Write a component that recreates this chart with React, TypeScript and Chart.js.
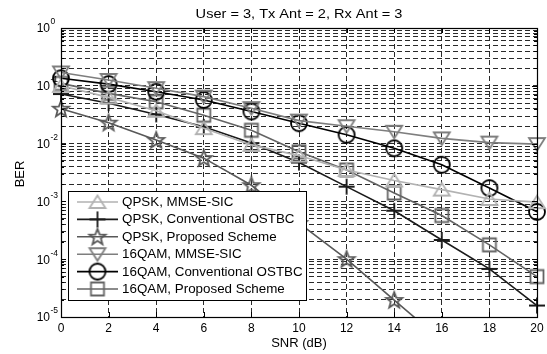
import React, { useEffect, useRef } from "react";
import { Chart, registerables } from "chart.js";

Chart.register(...registerables);

const snr = [0, 2, 4, 6, 8, 10, 12, 14, 16, 18, 20];
const qpskMmse = [0.1, 0.063, 0.037, 0.0185, 0.0095, 0.0062, 0.0035, 0.0023, 0.0016, 0.0011, 0.00097];
const qpskConv = [0.072, 0.05, 0.032, 0.0195, 0.0102, 0.0047, 0.0018, 0.00069, 0.000215, 0.000068, 0.0000158];
const qpskProp = [0.04, 0.023, 0.0115, 0.0056, 0.0019, 0.00042, 0.0001, 0.0000196, 0.0000039];
const qam16Mmse = [0.17, 0.126, 0.091, 0.065, 0.041, 0.025, 0.02, 0.016, 0.0123, 0.0104, 0.0098];
const qam16Conv = [0.135, 0.107, 0.079, 0.057, 0.036, 0.0225, 0.0142, 0.0083, 0.0043, 0.0017, 0.00066];
const qam16Prop = [0.11, 0.074, 0.053, 0.031, 0.017, 0.0072, 0.0035, 0.0014, 0.00057, 0.000177, 0.00005];

const seriesNames = [
  "QPSK, MMSE-SIC",
  "QPSK, Conventional OSTBC",
  "QPSK, Proposed Scheme",
  "16QAM, MMSE-SIC",
  "16QAM, Conventional OSTBC",
  "16QAM, Proposed Scheme",
];
const seriesData = [qpskMmse, qpskConv, qpskProp, qam16Mmse, qam16Conv, qam16Prop];
const seriesColors = ["#b2b2b2", "#1a1a1a", "#585858", "#7e7e7e", "#000000", "#646464"];
const seriesMarkers = ["triUp", "plus", "star", "triDown", "circle", "square"];

const xTicks = [0, 2, 4, 6, 8, 10, 12, 14, 16, 18, 20];
const yExponents = [0, -1, -2, -3, -4, -5];
const titleText = "User = 3, Tx Ant = 2, Rx Ant = 3";
const xTitle = "SNR (dB)";
const yTitle = "BER";

const FONT = "'Liberation Sans', Arial, Helvetica, sans-serif";

function makeMarker(kind: string, color: string): HTMLCanvasElement {
  const s = 22;
  const c = document.createElement("canvas");
  c.width = s;
  c.height = s;
  const ctx = c.getContext("2d")!;
  const cx = s / 2;
  const cy = s / 2;
  ctx.strokeStyle = color;
  ctx.lineWidth = 1.8;
  ctx.beginPath();
  if (kind === "triUp") {
    ctx.moveTo(cx, cy - 6.5);
    ctx.lineTo(cx + 8, cy + 6);
    ctx.lineTo(cx - 8, cy + 6);
    ctx.closePath();
  } else if (kind === "triDown") {
    ctx.moveTo(cx, cy + 6.5);
    ctx.lineTo(cx + 8, cy - 6);
    ctx.lineTo(cx - 8, cy - 6);
    ctx.closePath();
  } else if (kind === "plus") {
    ctx.moveTo(cx - 8, cy);
    ctx.lineTo(cx + 8, cy);
    ctx.moveTo(cx, cy - 8);
    ctx.lineTo(cx, cy + 8);
  } else if (kind === "circle") {
    ctx.arc(cx, cy, 8, 0, Math.PI * 2);
  } else if (kind === "square") {
    ctx.rect(cx - 6.5, cy - 6.5, 13, 13);
  } else if (kind === "star") {
    const R = 8.5;
    const r = 3.6;
    for (let i = 0; i < 10; i++) {
      const a = -Math.PI / 2 + (i * Math.PI) / 5;
      const rr = i % 2 === 0 ? R : r;
      const px = cx + rr * Math.cos(a);
      const py = cy + rr * Math.sin(a) + 0.5;
      if (i === 0) ctx.moveTo(px, py);
      else ctx.lineTo(px, py);
    }
    ctx.closePath();
  }
  ctx.stroke();
  return c;
}

function stretchedText(ctx: CanvasRenderingContext2D, text: string, x: number, y: number, sx: number) {
  ctx.save();
  ctx.translate(x, y);
  ctx.scale(sx, 1);
  ctx.fillText(text, 0, 0);
  ctx.restore();
}

export default function App() {
  const ref = useRef<HTMLCanvasElement | null>(null);

  useEffect(() => {
    document.body.style.margin = "0";
    const canvas = ref.current!;
    const markers = seriesMarkers.map((m, i) => makeMarker(m, seriesColors[i]));

    const datasets = seriesData.map((vals, i) => ({
      label: seriesNames[i],
      data: vals.map((v, j) => ({ x: snr[j], y: v })),
      borderColor: seriesColors[i],
      backgroundColor: seriesColors[i],
      borderWidth: 1.6,
      pointStyle: markers[i],
      pointRadius: 8,
      pointHoverRadius: 8,
      tension: 0,
      clip: { left: 12, right: 12, top: 12, bottom: 0 },
    }));

    const decorPlugin = {
      id: "decor",
      afterDatasetsDraw(chart: any) {
        const ctx = chart.ctx;
        ctx.save();
        const bx = 68, by = 191, bw = 238, bh = 109;
        ctx.fillStyle = "#ffffff";
        ctx.fillRect(bx, by, bw, bh);
        ctx.strokeStyle = "#000";
        ctx.lineWidth = 1;
        ctx.strokeRect(bx + 0.5, by + 0.5, bw, bh);
        ctx.font = `12.5px ${FONT}`;
        ctx.textBaseline = "middle";
        ctx.textAlign = "left";
        for (let i = 0; i < seriesNames.length; i++) {
          const y = 202 + i * 17.4;
          ctx.strokeStyle = seriesColors[i];
          ctx.lineWidth = 1.6;
          ctx.beginPath();
          ctx.moveTo(77, y);
          ctx.lineTo(118, y);
          ctx.stroke();
          const m = markers[i];
          ctx.drawImage(m, 97.5 - m.width / 2, y - m.height / 2);
          ctx.fillStyle = "#000";
          stretchedText(ctx, seriesNames[i], 122, y + 0.5, 1.07);
        }
        ctx.restore();
      },
      afterDraw(chart: any) {
        const ctx = chart.ctx;
        const area = chart.chartArea;
        const xs = chart.scales.x;
        const ys = chart.scales.y;
        ctx.save();
        ctx.strokeStyle = "#000";
        ctx.lineWidth = 1;
        ctx.beginPath();
        for (const t of xTicks) {
          const px = Math.round(xs.getPixelForValue(t)) + 0.5;
          ctx.moveTo(px, area.bottom);
          ctx.lineTo(px, area.bottom - 5);
          ctx.moveTo(px, area.top);
          ctx.lineTo(px, area.top + 5);
        }
        for (const e of yExponents) {
          for (let k = 1; k <= 9; k++) {
            const v = k * Math.pow(10, e);
            if (v > 1.0000001 || v < 1e-5 * 0.999999) continue;
            const py = Math.round(ys.getPixelForValue(v)) + 0.5;
            const len = k === 1 ? 5 : 3;
            ctx.moveTo(area.left, py);
            ctx.lineTo(area.left + len, py);
            ctx.moveTo(area.right, py);
            ctx.lineTo(area.right - len, py);
          }
        }
        ctx.stroke();
        ctx.lineWidth = 1.2;
        ctx.strokeRect(Math.round(area.left) + 0.5, Math.round(area.top) + 0.5, Math.round(area.right - area.left), Math.round(area.bottom - area.top));
        ctx.fillStyle = "#000";
        ctx.font = `12px ${FONT}`;
        ctx.textAlign = "center";
        ctx.textBaseline = "middle";
        for (const t of xTicks) {
          ctx.fillText(String(t), xs.getPixelForValue(t), 329);
        }
        for (const e of yExponents) {
          const py = ys.getPixelForValue(Math.pow(10, e));
          ctx.font = `12px ${FONT}`;
          ctx.textAlign = "right";
          ctx.textBaseline = "middle";
          ctx.fillText("10", 50, py + 1);
          ctx.font = `8.5px ${FONT}`;
          ctx.textAlign = "left";
          ctx.fillText(String(e), 50.5, py - 6);
        }
        ctx.font = `13px ${FONT}`;
        ctx.textAlign = "center";
        ctx.textBaseline = "middle";
        stretchedText(ctx, titleText, 299, 14.5, 1.12);
        ctx.fillText(xTitle, 299, 343);
        ctx.save();
        ctx.translate(20, 174);
        ctx.rotate(-Math.PI / 2);
        ctx.fillText(yTitle, 0, 0);
        ctx.restore();
        ctx.restore();
      },
    };

    const chart = new Chart(canvas, {
      type: "line",
      data: { datasets: datasets as any },
      options: {
        animation: false,
        responsive: false,
        events: [],
        layout: { padding: { top: 28, right: 10, left: 0, bottom: 0 } },
        plugins: {
          legend: { display: false },
          title: { display: false },
          tooltip: { enabled: false },
        },
        scales: {
          x: {
            type: "linear",
            min: 0,
            max: 20,
            ticks: { display: false, stepSize: 2 },
            grid: { color: "#2a2a2a", lineWidth: 1, drawTicks: false },
            border: { display: false, dash: [5, 3] },
            afterFit: (s: any) => {
              s.height = 37;
            },
          },
          y: {
            type: "logarithmic",
            min: 1e-5,
            max: 1,
            ticks: { display: false },
            grid: { color: "#2a2a2a", lineWidth: 1, drawTicks: false },
            border: { display: false, dash: [5, 3] },
            afterBuildTicks: (s: any) => {
              const t: any[] = [];
              for (const e of yExponents) {
                for (let k = 1; k <= 9; k++) {
                  const v = k * Math.pow(10, e);
                  if (v <= 1.0000001 && v >= 1e-5 * 0.999999) t.push({ value: v });
                }
              }
              s.ticks = t;
            },
            afterFit: (s: any) => {
              s.width = 61;
            },
          },
        },
      } as any,
      plugins: [decorPlugin],
    });
    return () => chart.destroy();
  }, []);

  return (
    <div style={{ position: "absolute", left: 0, top: 0, width: 547, height: 354, background: "#fff" }}>
      <canvas ref={ref} width={547} height={354} />
    </div>
  );
}
